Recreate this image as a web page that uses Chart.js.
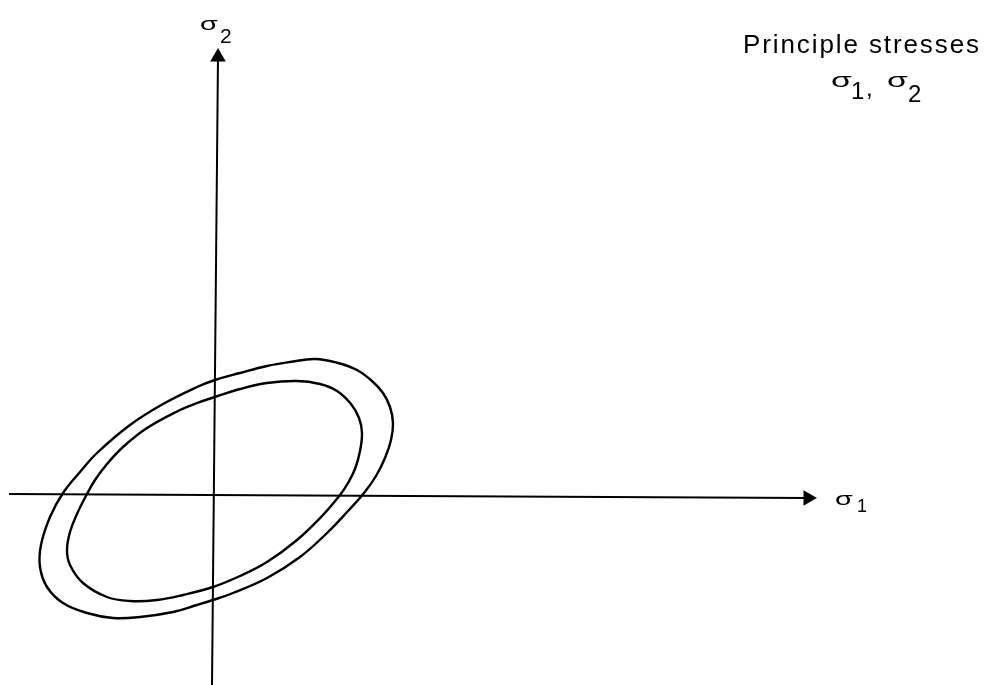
<!DOCTYPE html>
<html>
<head>
<meta charset="utf-8">
<title>Principle stresses</title>
<script src="https://cdn.jsdelivr.net/npm/chart.js"></script>
<style>
  html, body { margin: 0; padding: 0; background: #fff; }
  canvas { display: block; }
</style>
</head>
<body>
<canvas id="stress-chart" width="988" height="685"></canvas>
<script>
// Axis lines (sigma1 horizontal, sigma2 vertical), end points carry the arrow heads
const axisXValues = [-2.05, 5.94];
const axisXLevel = [0, -0.04];
const axisYLevel = [-0.02, 0.04];
const axisYValues = [-1.91, 4.37];

// Outer yield locus, traced round from the upper left flank
const outerSigma1 = [-0.51, -0.84, -1.17, -1.34, -1.51, -1.64, -1.73, -1.74, -1.67, -1.51, -1.27, -1.01,
    -0.74, -0.41, -0.17, -0.01, 0.19, 0.53, 0.86, 1.13, 1.34, 1.50, 1.62, 1.71, 1.77, 1.79,
    1.76, 1.69, 1.58, 1.43, 1.24, 1.01, 0.76, 0.53, 0.26, 0.01, -0.17];
const outerSigma2 = [0.90, 0.69, 0.41, 0.22, 0.01, -0.23, -0.51, -0.73, -0.93, -1.09, -1.19, -1.24,
    -1.23, -1.18, -1.11, -1.06, -0.99, -0.84, -0.63, -0.39, -0.17, 0.01, 0.18, 0.36, 0.54, 0.71,
    0.87, 1.01, 1.13, 1.24, 1.31, 1.35, 1.32, 1.28, 1.21, 1.14, 1.07];

// Inner yield locus
const innerSigma1 = [-0.67, -0.91, -1.07, -1.19, -1.27, -1.37, -1.44, -1.47, -1.44, -1.31, -1.07, -0.84,
    -0.57, -0.31, -0.01, 0.26, 0.53, 0.83, 1.08, 1.26, 1.34, 1.41, 1.46, 1.48, 1.45, 1.37,
    1.23, 1.06, 0.83, 0.53, 0.26, 0.01, -0.17, -0.34];
const innerSigma2 = [0.66, 0.47, 0.30, 0.14, 0.00, -0.20, -0.38, -0.56, -0.71, -0.89, -1.03, -1.07,
    -1.06, -1.01, -0.93, -0.82, -0.68, -0.46, -0.22, -0.01, 0.11, 0.25, 0.43, 0.61, 0.76, 0.90,
    1.03, 1.10, 1.13, 1.11, 1.05, 0.97, 0.91, 0.84];

function toPoints(xs, ys) {
    return xs.map((x, i) => ({ x: x, y: ys[i] }));
}

const FONT = '"Liberation Sans", Arial, sans-serif';

/**
 * Draws a sigma with its index. The sigma is stretched sideways, the digit sits lower.
 */
function drawSigma(ctx, x, y, sigmaSize, digit, dx, dy, digitSize) {
    ctx.save();
    ctx.translate(x, y);
    ctx.scale(1.6, 1);
    ctx.font = sigmaSize + 'px ' + FONT;
    ctx.fillText('σ', 0, 0);
    ctx.restore();
    ctx.font = digitSize + 'px ' + FONT;
    ctx.fillText(digit, x + dx, y + dy);
}

// The loci are closed curves: let the line element join last point to first,
// the same way the radar controller does it
const closedLoops = {
    id: 'closedLoops',
    afterDatasetUpdate(chart, args) {
        const ds = chart.data.datasets[args.index];
        if (!ds.closed) return;
        const line = args.meta.dataset;
        line._loop = true;
        line._fullLoop = true;
        delete line._segments;
        delete line._path;
        line._pointsUpdated = false;
    }
};

// Axis names and the note in the corner
const stressLabels = {
    id: 'stressLabels',
    afterDraw(chart) {
        const ctx = chart.ctx;
        const sx = chart.scales.x;
        const sy = chart.scales.y;
        ctx.save();
        ctx.fillStyle = '#000';
        ctx.textBaseline = 'alphabetic';

        // sigma2 above the vertical arrow
        const topX = sx.getPixelForValue(axisYLevel[1]);
        const topY = sy.getPixelForValue(axisYValues[1]);
        drawSigma(ctx, topX - 18, topY - 27, 18, '2', 20, 13, 21);

        // sigma1 past the horizontal arrow
        const endX = sx.getPixelForValue(axisXValues[1]);
        const endY = sy.getPixelForValue(axisXLevel[1]);
        drawSigma(ctx, endX + 27, endY + 7, 18, '1', 22, 7, 18);

        // note, top right
        ctx.font = '26px ' + FONT;
        ctx.letterSpacing = '1.9px';
        ctx.fillText('Principle stresses', 743, 53);
        ctx.letterSpacing = '0px';
        drawSigma(ctx, 831, 87, 21, '1', 20, 12, 24);
        ctx.font = '24px ' + FONT;
        ctx.fillText(',', 866, 96);
        drawSigma(ctx, 887, 87, 21, '2', 21, 15, 24);

        ctx.restore();
    }
};

const lineStyle = {
    borderColor: '#000',
    backgroundColor: '#000',
    showLine: true,
    fill: false,
    pointRadius: 0,
    pointHoverRadius: 0
};

new Chart(document.getElementById('stress-chart'), {
    type: 'scatter',
    data: {
        datasets: [
            {
                ...lineStyle,
                data: toPoints(axisXValues, axisXLevel),
                borderWidth: 2,
                pointRadius: [0, 7],
                pointStyle: 'triangle',
                rotation: 90,
                pointBackgroundColor: '#000',
                pointBorderColor: '#000'
            },
            {
                ...lineStyle,
                data: toPoints(axisYLevel, axisYValues),
                borderWidth: 2,
                pointRadius: [0, 7],
                pointStyle: 'triangle',
                rotation: 0,
                pointBackgroundColor: '#000',
                pointBorderColor: '#000'
            },
            {
                ...lineStyle,
                data: toPoints(outerSigma1, outerSigma2),
                borderWidth: 2.4,
                tension: 0.4,
                closed: true
            },
            {
                ...lineStyle,
                data: toPoints(innerSigma1, innerSigma2),
                borderWidth: 2.4,
                tension: 0.4,
                closed: true
            }
        ]
    },
    options: {
        responsive: false,
        animation: false,
        devicePixelRatio: 1,
        layout: { padding: 0, autoPadding: false },
        plugins: {
            legend: { display: false },
            tooltip: { enabled: false }
        },
        scales: {
            x: { type: 'linear', min: -2.14, max: 7.74, display: false },
            y: { type: 'linear', min: -1.91, max: 4.94, display: false }
        }
    },
    plugins: [closedLoops, stressLabels]
});
</script>
</body>
</html>
